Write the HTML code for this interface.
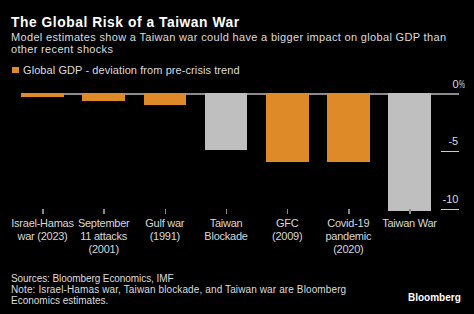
<!DOCTYPE html>
<html><head><meta charset="utf-8">
<style>
html,body{margin:0;padding:0;}
body{width:474px;height:314px;background:#000;position:relative;overflow:hidden;font-family:"Liberation Sans",sans-serif;}
.a{position:absolute;white-space:nowrap;}
#title{left:11px;top:15.2px;font-size:13.8px;line-height:16px;font-weight:bold;color:#fff;letter-spacing:0.55px;}
#sub{left:11px;top:30.7px;font-size:11px;line-height:12px;color:#ddd;letter-spacing:0.33px;}
#leg{left:12px;top:66.6px;width:6.6px;height:6.8px;background:#DE8A28;}
#legt{left:23px;top:63.8px;letter-spacing:0.08px;font-size:11px;line-height:13px;color:#ddd;}
.bar{position:absolute;top:93px;width:42.7px;}
.o{background:#DE8A28;}
.g{background:#BFBFBF;}
.zero{left:21px;top:93px;width:438px;height:2px;background:#8c8c8c;}
.gl{left:441px;width:18px;height:1px;background:#ccc;}
.yl{font-size:11px;line-height:13px;color:#ddd;}
.tick{position:absolute;top:209px;width:1.5px;height:4.5px;background:#888;}
.xl{position:absolute;top:217px;width:70px;text-align:center;font-size:11px;line-height:13px;color:#d8d8d8;letter-spacing:-0.25px;}
#foot{left:11px;top:272.7px;font-size:10px;line-height:11px;color:#ddd;}
#logo{left:408px;top:291.8px;font-size:10px;line-height:11px;font-weight:bold;color:#fff;}
</style></head><body>
<div class="a" id="title">The Global Risk of a Taiwan War</div>
<div class="a" id="sub">Model estimates show a Taiwan war could have a bigger impact on global GDP than<br>other recent shocks</div>
<div class="a" id="leg"></div>
<div class="a" id="legt">Global GDP - deviation from pre-crisis trend</div>

<div class="a zero"></div>
<div class="bar o" style="left:21.1px;height:4.0px"></div>
<div class="bar o" style="left:82.3px;height:7.5px"></div>
<div class="bar o" style="left:143.5px;height:12.0px"></div>
<div class="bar g" style="left:204.7px;height:57.3px"></div>
<div class="bar o" style="left:265.9px;height:68.5px"></div>
<div class="bar o" style="left:327.1px;height:68.7px"></div>
<div class="bar g" style="left:388.3px;height:117.8px"></div>

<div class="a gl" style="top:151px"></div>
<div class="a gl" style="top:208.5px"></div>
<div class="a yl" style="left:452.5px;top:78.2px">0<span style="display:inline-block;transform:scaleX(0.6);transform-origin:0 0">%</span></div>
<div class="a yl" style="right:15.8px;top:135.1px">-5</div>
<div class="a yl" style="right:15.6px;top:192.5px">-10</div>

<div class="tick" style="left:42.2px"></div>
<div class="tick" style="left:103.4px"></div>
<div class="tick" style="left:164.5px"></div>
<div class="tick" style="left:225.7px"></div>
<div class="tick" style="left:286.9px"></div>
<div class="tick" style="left:348px"></div>
<div class="tick" style="left:409.2px"></div>

<div class="xl" style="left:7.5px">Israel-Hamas<br>war (2023)</div>
<div class="xl" style="left:68.7px">September<br>11 attacks<br>(2001)</div>
<div class="xl" style="left:129.8px">Gulf war<br>(1991)</div>
<div class="xl" style="left:191px">Taiwan<br>Blockade</div>
<div class="xl" style="left:252.2px">GFC<br>(2009)</div>
<div class="xl" style="left:313.3px">Covid-19<br>pandemic<br>(2020)</div>
<div class="xl" style="left:374.5px">Taiwan War</div>

<div class="a" id="foot"><span style="letter-spacing:-0.08px">Sources: Bloomberg Economics, IMF</span><br><span style="letter-spacing:0.12px">Note: Israel-Hamas war, Taiwan blockade, and Taiwan war are Bloomberg</span><br>Economics estimates.</div>
<div class="a" id="logo">Bloomberg</div>
</body></html>
